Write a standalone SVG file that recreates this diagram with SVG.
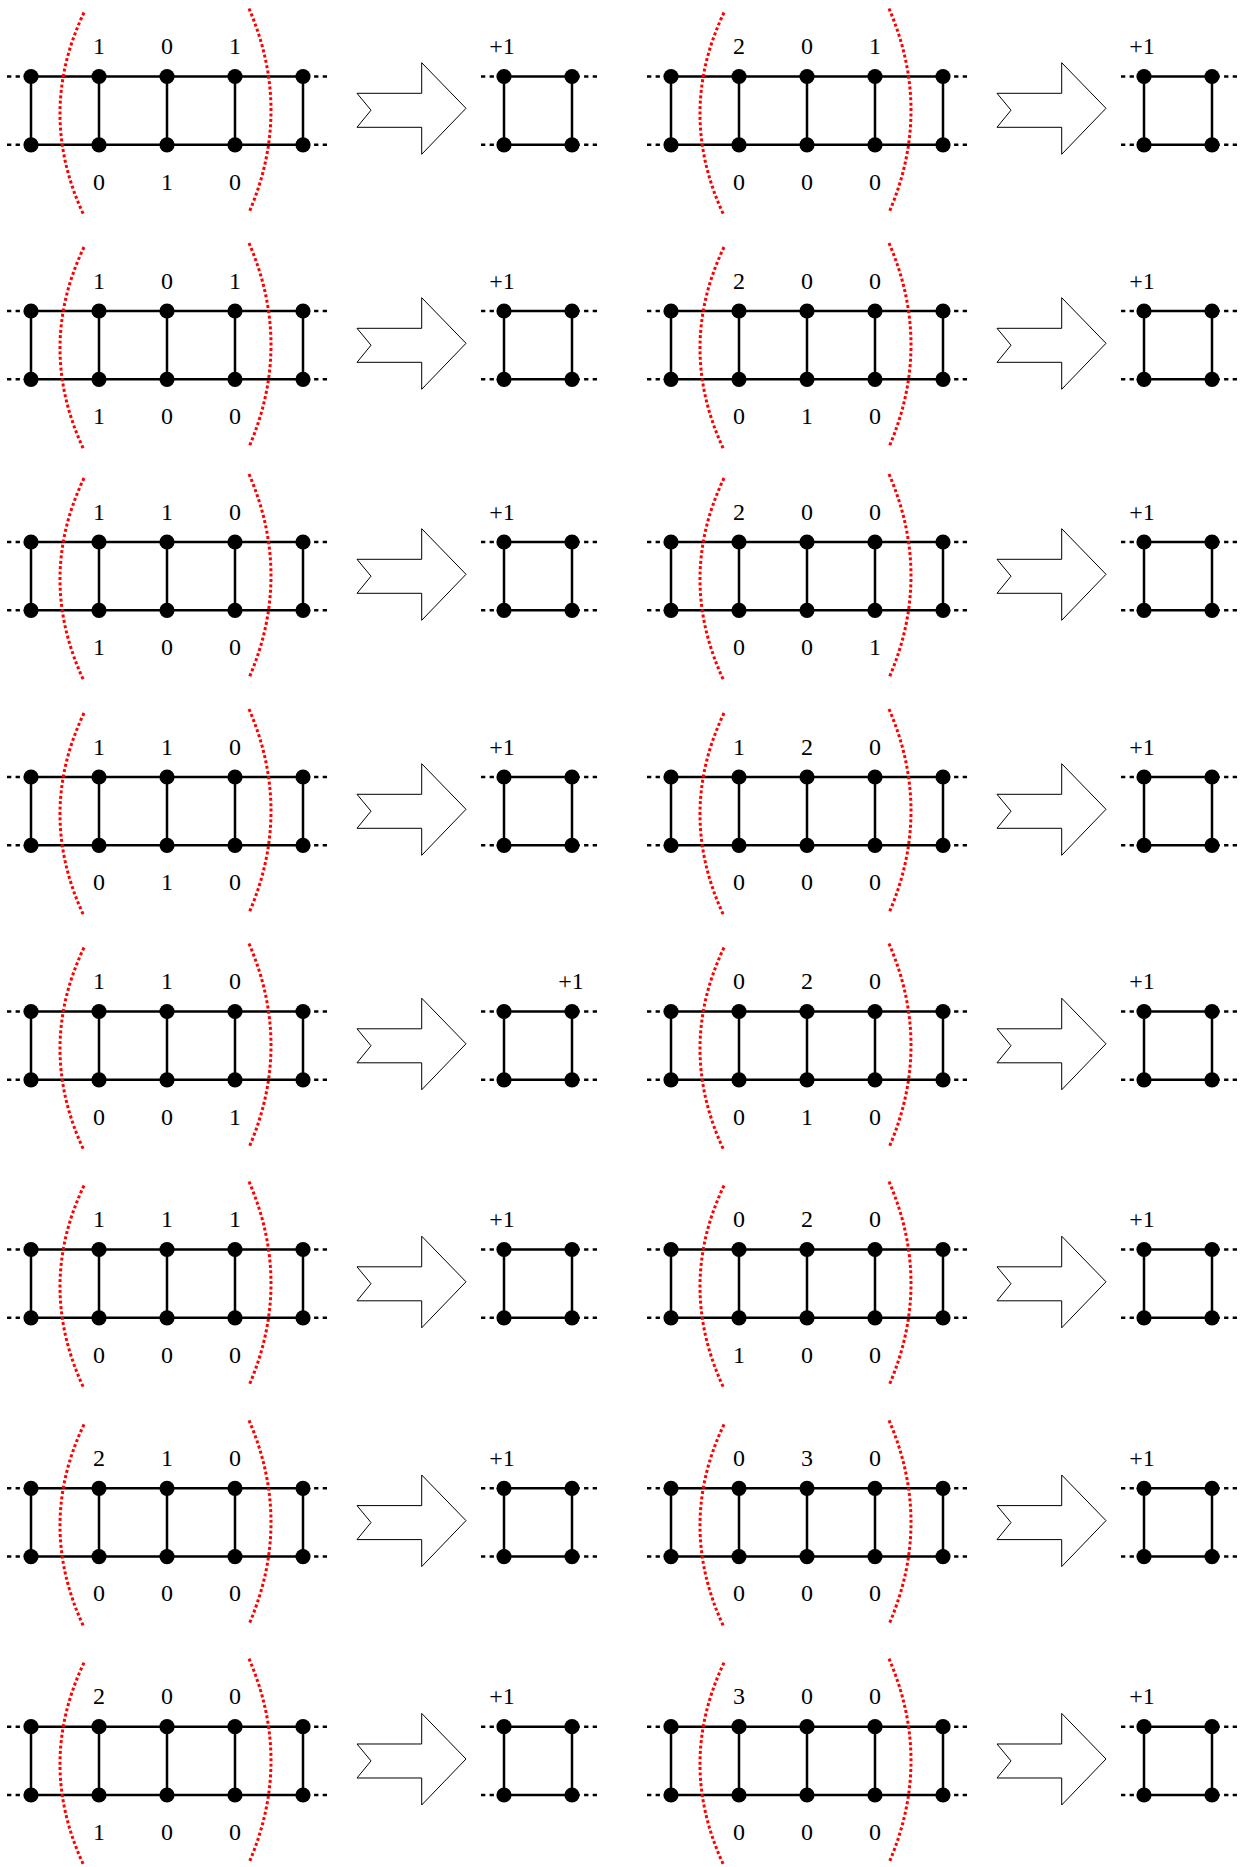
<svg xmlns="http://www.w3.org/2000/svg" width="1243" height="1867" viewBox="0 0 1243 1867" font-family="'Liberation Serif', 'Times New Roman', serif">
<style>
.rail{stroke:#000;stroke-width:2.5;fill:none}
.stub{stroke:#000;stroke-width:2.5;fill:none;stroke-dasharray:4.3 4.3}
.cut{stroke:#ff0000;stroke-width:3;fill:none;stroke-dasharray:3 2.4}
.dot{fill:#000}
.blk{fill:#fff;stroke:#000;stroke-width:1}
.lbl{font-family:'Liberation Serif','Times New Roman',serif;font-size:24px;fill:#000;text-anchor:middle}
</style>
<defs>
<g id="ladder">
<path class="stub" d="M7,0H31M7,68.3H31M327,0H303M327,68.3H303"/>
<path class="rail" d="M31,0H303M31,68.3H303M31,0V68.3M99,0V68.3M167,0V68.3M235,0V68.3M303,0V68.3"/>
<g class="dot">
<circle cx="31" cy="0" r="7.6"/><circle cx="99" cy="0" r="7.6"/><circle cx="167" cy="0" r="7.6"/><circle cx="235" cy="0" r="7.6"/><circle cx="303" cy="0" r="7.6"/>
<circle cx="31" cy="68.3" r="7.6"/><circle cx="99" cy="68.3" r="7.6"/><circle cx="167" cy="68.3" r="7.6"/><circle cx="235" cy="68.3" r="7.6"/><circle cx="303" cy="68.3" r="7.6"/>
</g>
<path class="cut" d="M84,-64Q36,37 84,139"/>
<path class="cut" d="M249,-68Q293,34 249,136"/>
</g>
<g id="square">
<path class="stub" d="M481,0H504M481,68.3H504M597,0H572M597,68.3H572"/>
<path class="rail" d="M504,0H572M504,68.3H572M504,0V68.3M572,0V68.3"/>
<g class="dot">
<circle cx="504" cy="0" r="7.6"/><circle cx="572" cy="0" r="7.6"/><circle cx="504" cy="68.3" r="7.6"/><circle cx="572" cy="68.3" r="7.6"/>
</g>
</g>
<polygon id="blockarrow" class="blk" points="357,17.3 421.7,17.3 421.7,-13.3 466,32.3 421.7,78.3 421.7,51.3 357,51.3 371,34.2"/>
</defs>

<g id="connectors">
<use href="#blockarrow" transform="translate(0,76)"/>
<use href="#blockarrow" transform="translate(640,76)"/>
<use href="#blockarrow" transform="translate(0,311)"/>
<use href="#blockarrow" transform="translate(640,311)"/>
<use href="#blockarrow" transform="translate(0,542)"/>
<use href="#blockarrow" transform="translate(640,542)"/>
<use href="#blockarrow" transform="translate(0,777)"/>
<use href="#blockarrow" transform="translate(640,777)"/>
<use href="#blockarrow" transform="translate(0,1011.5)"/>
<use href="#blockarrow" transform="translate(640,1011.5)"/>
<use href="#blockarrow" transform="translate(0,1249.5)"/>
<use href="#blockarrow" transform="translate(640,1249.5)"/>
<use href="#blockarrow" transform="translate(0,1488.3)"/>
<use href="#blockarrow" transform="translate(640,1488.3)"/>
<use href="#blockarrow" transform="translate(0,1726.7)"/>
<use href="#blockarrow" transform="translate(640,1726.7)"/>
</g>

<g class="lbl">
<!-- Row 1 -->
<g id="r1-left-ladder" transform="translate(0,76.5)"><use href="#ladder"/>
<text x="99" y="-22.5">1</text><text x="167" y="-22.5">0</text><text x="235" y="-22.5">1</text>
<text x="99" y="113">0</text><text x="167" y="113">1</text><text x="235" y="113">0</text></g>
<g id="r1-left-square" transform="translate(0,76.5)"><use href="#square"/><text x="502" y="-22.5">+1</text></g>
<g id="r1-right-ladder" transform="translate(640,76.5)"><use href="#ladder"/>
<text x="99" y="-22.5">2</text><text x="167" y="-22.5">0</text><text x="235" y="-22.5">1</text>
<text x="99" y="113">0</text><text x="167" y="113">0</text><text x="235" y="113">0</text></g>
<g id="r1-right-square" transform="translate(640,76.5)"><use href="#square"/><text x="502" y="-22.5">+1</text></g>

<!-- Row 2 -->
<g id="r2-left-ladder" transform="translate(0,311)"><use href="#ladder"/>
<text x="99" y="-22.5">1</text><text x="167" y="-22.5">0</text><text x="235" y="-22.5">1</text>
<text x="99" y="113">1</text><text x="167" y="113">0</text><text x="235" y="113">0</text></g>
<g id="r2-left-square" transform="translate(0,311)"><use href="#square"/><text x="502" y="-22.5">+1</text></g>
<g id="r2-right-ladder" transform="translate(640,311)"><use href="#ladder"/>
<text x="99" y="-22.5">2</text><text x="167" y="-22.5">0</text><text x="235" y="-22.5">0</text>
<text x="99" y="113">0</text><text x="167" y="113">1</text><text x="235" y="113">0</text></g>
<g id="r2-right-square" transform="translate(640,311)"><use href="#square"/><text x="502" y="-22.5">+1</text></g>

<!-- Row 3 -->
<g id="r3-left-ladder" transform="translate(0,542)"><use href="#ladder"/>
<text x="99" y="-22.5">1</text><text x="167" y="-22.5">1</text><text x="235" y="-22.5">0</text>
<text x="99" y="113">1</text><text x="167" y="113">0</text><text x="235" y="113">0</text></g>
<g id="r3-left-square" transform="translate(0,542)"><use href="#square"/><text x="502" y="-22.5">+1</text></g>
<g id="r3-right-ladder" transform="translate(640,542)"><use href="#ladder"/>
<text x="99" y="-22.5">2</text><text x="167" y="-22.5">0</text><text x="235" y="-22.5">0</text>
<text x="99" y="113">0</text><text x="167" y="113">0</text><text x="235" y="113">1</text></g>
<g id="r3-right-square" transform="translate(640,542)"><use href="#square"/><text x="502" y="-22.5">+1</text></g>

<!-- Row 4 -->
<g id="r4-left-ladder" transform="translate(0,777)"><use href="#ladder"/>
<text x="99" y="-22.5">1</text><text x="167" y="-22.5">1</text><text x="235" y="-22.5">0</text>
<text x="99" y="113">0</text><text x="167" y="113">1</text><text x="235" y="113">0</text></g>
<g id="r4-left-square" transform="translate(0,777)"><use href="#square"/><text x="502" y="-22.5">+1</text></g>
<g id="r4-right-ladder" transform="translate(640,777)"><use href="#ladder"/>
<text x="99" y="-22.5">1</text><text x="167" y="-22.5">2</text><text x="235" y="-22.5">0</text>
<text x="99" y="113">0</text><text x="167" y="113">0</text><text x="235" y="113">0</text></g>
<g id="r4-right-square" transform="translate(640,777)"><use href="#square"/><text x="502" y="-22.5">+1</text></g>

<!-- Row 5 -->
<g id="r5-left-ladder" transform="translate(0,1011.5)"><use href="#ladder"/>
<text x="99" y="-22.5">1</text><text x="167" y="-22.5">1</text><text x="235" y="-22.5">0</text>
<text x="99" y="113">0</text><text x="167" y="113">0</text><text x="235" y="113">1</text></g>
<g id="r5-left-square" transform="translate(0,1011.5)"><use href="#square"/><text x="571" y="-22.5">+1</text></g>
<g id="r5-right-ladder" transform="translate(640,1011.5)"><use href="#ladder"/>
<text x="99" y="-22.5">0</text><text x="167" y="-22.5">2</text><text x="235" y="-22.5">0</text>
<text x="99" y="113">0</text><text x="167" y="113">1</text><text x="235" y="113">0</text></g>
<g id="r5-right-square" transform="translate(640,1011.5)"><use href="#square"/><text x="502" y="-22.5">+1</text></g>

<!-- Row 6 -->
<g id="r6-left-ladder" transform="translate(0,1249.5)"><use href="#ladder"/>
<text x="99" y="-22.5">1</text><text x="167" y="-22.5">1</text><text x="235" y="-22.5">1</text>
<text x="99" y="113">0</text><text x="167" y="113">0</text><text x="235" y="113">0</text></g>
<g id="r6-left-square" transform="translate(0,1249.5)"><use href="#square"/><text x="502" y="-22.5">+1</text></g>
<g id="r6-right-ladder" transform="translate(640,1249.5)"><use href="#ladder"/>
<text x="99" y="-22.5">0</text><text x="167" y="-22.5">2</text><text x="235" y="-22.5">0</text>
<text x="99" y="113">1</text><text x="167" y="113">0</text><text x="235" y="113">0</text></g>
<g id="r6-right-square" transform="translate(640,1249.5)"><use href="#square"/><text x="502" y="-22.5">+1</text></g>

<!-- Row 7 -->
<g id="r7-left-ladder" transform="translate(0,1488.3)"><use href="#ladder"/>
<text x="99" y="-22.5">2</text><text x="167" y="-22.5">1</text><text x="235" y="-22.5">0</text>
<text x="99" y="113">0</text><text x="167" y="113">0</text><text x="235" y="113">0</text></g>
<g id="r7-left-square" transform="translate(0,1488.3)"><use href="#square"/><text x="502" y="-22.5">+1</text></g>
<g id="r7-right-ladder" transform="translate(640,1488.3)"><use href="#ladder"/>
<text x="99" y="-22.5">0</text><text x="167" y="-22.5">3</text><text x="235" y="-22.5">0</text>
<text x="99" y="113">0</text><text x="167" y="113">0</text><text x="235" y="113">0</text></g>
<g id="r7-right-square" transform="translate(640,1488.3)"><use href="#square"/><text x="502" y="-22.5">+1</text></g>

<!-- Row 8 -->
<g id="r8-left-ladder" transform="translate(0,1726.7)"><use href="#ladder"/>
<text x="99" y="-22.5">2</text><text x="167" y="-22.5">0</text><text x="235" y="-22.5">0</text>
<text x="99" y="113">1</text><text x="167" y="113">0</text><text x="235" y="113">0</text></g>
<g id="r8-left-square" transform="translate(0,1726.7)"><use href="#square"/><text x="502" y="-22.5">+1</text></g>
<g id="r8-right-ladder" transform="translate(640,1726.7)"><use href="#ladder"/>
<text x="99" y="-22.5">3</text><text x="167" y="-22.5">0</text><text x="235" y="-22.5">0</text>
<text x="99" y="113">0</text><text x="167" y="113">0</text><text x="235" y="113">0</text></g>
<g id="r8-right-square" transform="translate(640,1726.7)"><use href="#square"/><text x="502" y="-22.5">+1</text></g>
</g>
</svg>
